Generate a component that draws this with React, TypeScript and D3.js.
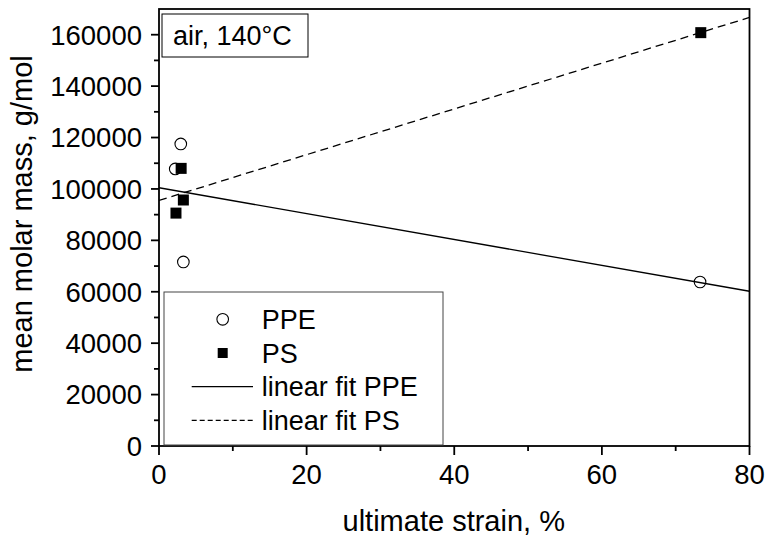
import React, { useEffect } from 'react';
import * as d3 from 'd3';

// values
const ppeStrain = [2.2, 2.95, 3.3, 73.3];
const ppeMass = [107800, 117500, 71600, 63800];
const psStrain = [3.0, 3.3, 2.3, 73.4];
const psMass = [108000, 95700, 90600, 160800];

const xTicks = [0, 20, 40, 60, 80];
const xMinor = [10, 30, 50, 70];
const yTicks = [0, 20000, 40000, 60000, 80000, 100000, 120000, 140000, 160000];
const yMinor = [10000, 30000, 50000, 70000, 90000, 110000, 130000, 150000];

const legendItems = ['PPE', 'PS', 'linear fit PPE', 'linear fit PS'];

const W = 766;
const H = 537;
const font = 'Arial, "Liberation Sans", sans-serif';

// least squares line through the points
function fit(xs: number[], ys: number[]) {
  const mx = d3.mean(xs) as number;
  const my = d3.mean(ys) as number;
  let sxy = 0;
  let sxx = 0;
  xs.forEach((x, i) => {
    sxy += (x - mx) * (ys[i] - my);
    sxx += (x - mx) * (x - mx);
  });
  const b = sxy / sxx;
  const a = my - b * mx;
  return (x: number) => a + b * x;
}

const App = () => {
  useEffect(() => {
    document.body.style.margin = '0';
  }, []);

  const x = d3.scaleLinear().domain([0, 80]).range([159, 749.5]);
  const y = d3.scaleLinear().domain([0, 170000]).range([446, 9]);

  const ppeFit = fit(ppeStrain, ppeMass);
  const psFit = fit(psStrain, psMass);
  const line = d3
    .line<number>()
    .x((d) => x(d))
    .y((d) => y(d));
  const xs = x.domain();
  const ppePath = line.y((d) => y(ppeFit(d)))(xs) as string;
  const psPath = line.y((d) => y(psFit(d)))(xs) as string;

  const [x0, x1] = x.range();
  const [y0, y1] = y.range();

  const legX = 164;
  const legY = 292;
  const rowH = 33.7;

  return (
    <svg width={W} height={H} style={{ display: 'block', background: '#fff' }} fontFamily={font}>
      <defs>
        <clipPath id="plot">
          <rect x={x0} y={y1} width={x1 - x0} height={y0 - y1} />
        </clipPath>
      </defs>

      {/* fit lines */}
      <g clipPath="url(#plot)" fill="none" stroke="#000" strokeWidth={1.3}>
        <path d={ppePath} />
        <path d={psPath} strokeDasharray="8,5" />
      </g>

      {/* PPE points */}
      {ppeStrain.map((v, i) => (
        <circle key={'c' + i} cx={x(v)} cy={y(ppeMass[i])} r={5.8} fill="#fff" fillOpacity={0} stroke="#000" strokeWidth={1.1} />
      ))}
      {/* PS points */}
      {psStrain.map((v, i) => (
        <rect key={'s' + i} x={x(v) - 5.5} y={y(psMass[i]) - 5.5} width={11} height={11} fill="#000" />
      ))}

      {/* frame */}
      <rect x={x0} y={y1} width={x1 - x0} height={y0 - y1} fill="none" stroke="#000" strokeWidth={1.8} />

      {/* x axis ticks */}
      {xTicks.map((t) => (
        <g key={'xt' + t}>
          <line x1={x(t)} x2={x(t)} y1={y0} y2={y0 + 9} stroke="#000" strokeWidth={1.8} />
          <text x={x(t)} y={483.5} textAnchor="middle" fontSize={27.5}>
            {t}
          </text>
        </g>
      ))}
      {xMinor.map((t) => (
        <line key={'xm' + t} x1={x(t)} x2={x(t)} y1={y0} y2={y0 + 5} stroke="#000" strokeWidth={1.8} />
      ))}

      {/* y axis ticks */}
      {yTicks.map((t) => (
        <g key={'yt' + t}>
          <line x1={x0 - 8} x2={x0} y1={y(t)} y2={y(t)} stroke="#000" strokeWidth={1.8} />
          <text x={142} y={y(t) + 9.8} textAnchor="end" fontSize={27.5}>
            {t}
          </text>
        </g>
      ))}
      {yMinor.map((t) => (
        <line key={'ym' + t} x1={x0 - 5} x2={x0} y1={y(t)} y2={y(t)} stroke="#000" strokeWidth={1.8} />
      ))}

      {/* axis titles */}
      <text x={(x0 + x1) / 2 - 0.5} y={531} textAnchor="middle" fontSize={29}>
        ultimate strain, %
      </text>
      <text transform={`translate(32,214) rotate(-90)`} textAnchor="middle" fontSize={29}>
        mean molar mass, g/mol
      </text>

      {/* condition label */}
      <rect x={162} y={14} width={146} height={43} fill="#fff" stroke="#000" strokeWidth={1} />
      <text x={173} y={45} fontSize={27}>
        air, 140°C
      </text>

      {/* legend */}
      <rect x={legX} y={legY} width={279} height={153} fill="#fff" stroke="#444" strokeWidth={1} />
      {legendItems.map((name, i) => {
        const cy = 319.3 + i * rowH;
        let mark;
        if (i === 0) mark = <circle cx={222.7} cy={cy} r={5.8} fill="none" stroke="#000" strokeWidth={1.1} />;
        else if (i === 1) mark = <rect x={217.7} y={cy - 5} width={10} height={10} fill="#000" />;
        else
          mark = (
            <line x1={191.7} x2={253} y1={cy} y2={cy} stroke="#000" strokeWidth={1.2} strokeDasharray={i === 3 ? '5,3' : undefined} />
          );
        return (
          <g key={name}>
            {mark}
            <text x={261.7} y={cy + 9.5} fontSize={27}>
              {name}
            </text>
          </g>
        );
      })}
    </svg>
  );
};

export default App;
